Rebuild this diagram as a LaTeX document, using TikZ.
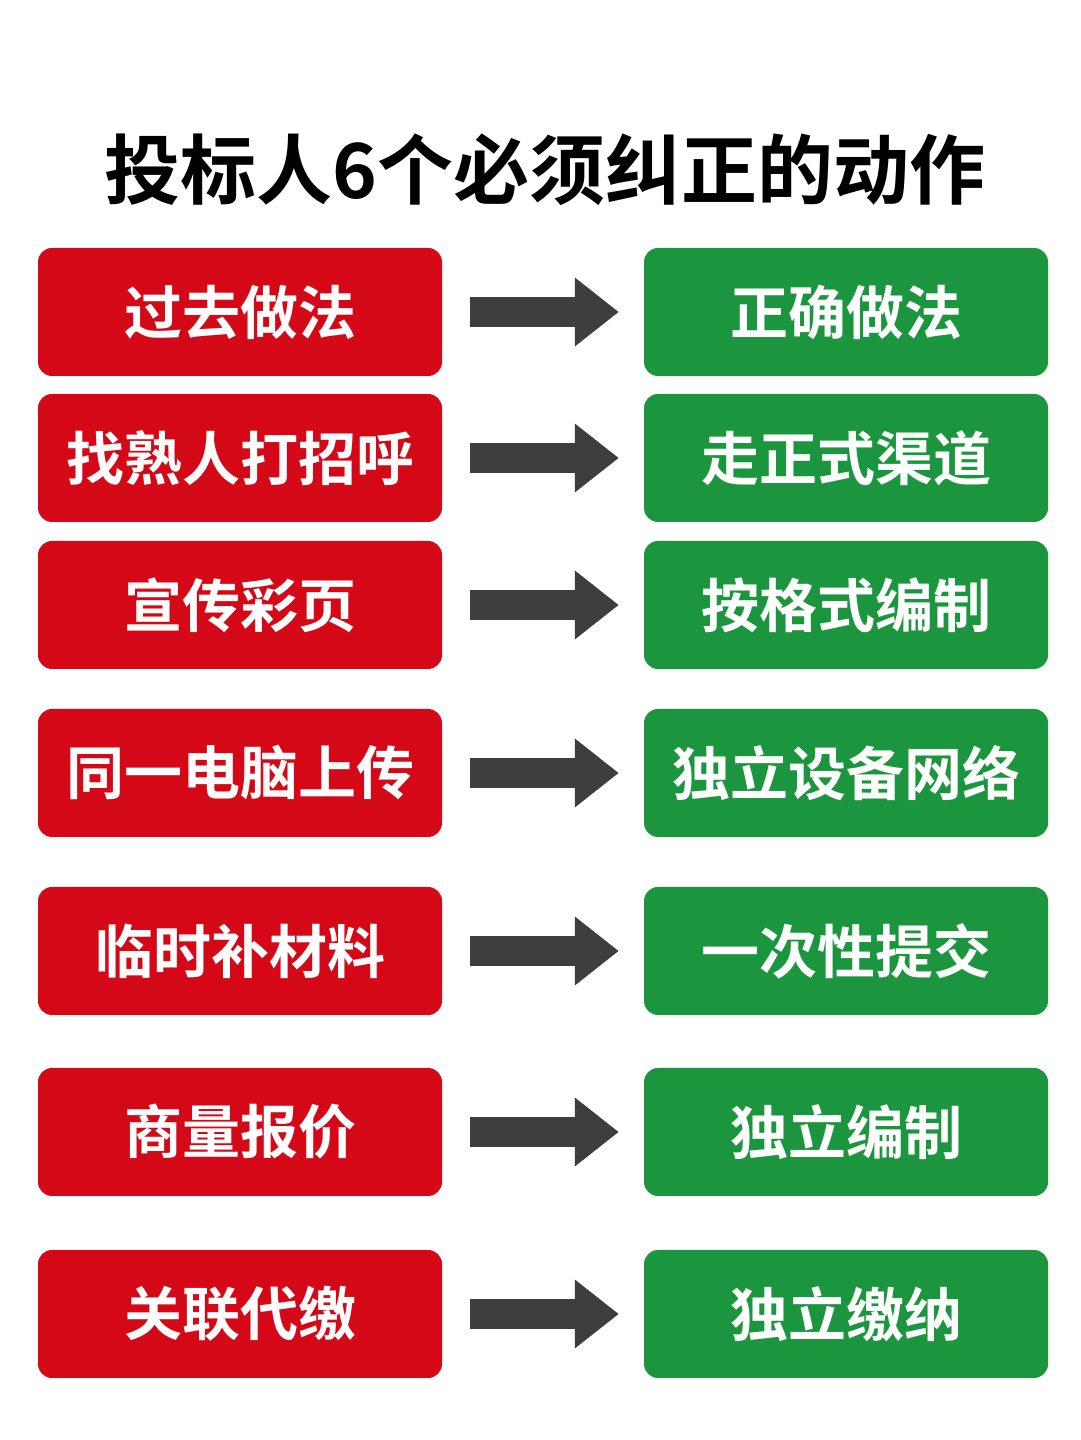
\documentclass[tikz,border=0pt]{standalone}
\usepackage{fontspec}
\setmainfont{Noto Sans CJK SC}[BoldFont={Noto Sans CJK SC Bold}]
\usetikzlibrary{arrows.meta}
\definecolor{badred}{RGB}{212,8,22}
\definecolor{goodgreen}{RGB}{28,150,62}
\definecolor{arrowgray}{RGB}{62,62,62}
\tikzset{
  box/.style={rounded corners=14pt, minimum width=404pt, minimum height=128pt,
    inner sep=0pt, text=white, font=\bfseries\fontsize{58}{60}\selectfont},
  old/.style={box, fill=badred},
  new/.style={box, fill=goodgreen},
  turn/.style={line width=30pt, draw=arrowgray, shorten <=28pt, shorten >=25pt,
    -{Triangle[length=44pt,width=66pt]}}
}
\begin{document}
\begin{tikzpicture}[x=1pt,y=1pt]
\fill[white] (0,0) rectangle (1080,1440);
\useasboundingbox (0,0) rectangle (1080,1440);
\node[font=\bfseries\fontsize{76}{80}\selectfont] (title) at (545,1270) {投标人6个必须纠正的动作};
\foreach \i/\y/\a/\b in {1/312/过去做法/正确做法, 2/458/找熟人打招呼/走正式渠道,
    3/605/宣传彩页/按格式编制, 4/773/同一电脑上传/独立设备网络,
    5/951/临时补材料/一次性提交, 6/1132/商量报价/独立编制, 7/1314/关联代缴/独立缴纳} {
  \node[old] (l\i) at (240,1440-\y) {\a};
  \node[new] (r\i) at (846,1440-\y) {\b};
  \draw[turn] (l\i.east) -- (r\i.west);
}
\end{tikzpicture}
\end{document}
